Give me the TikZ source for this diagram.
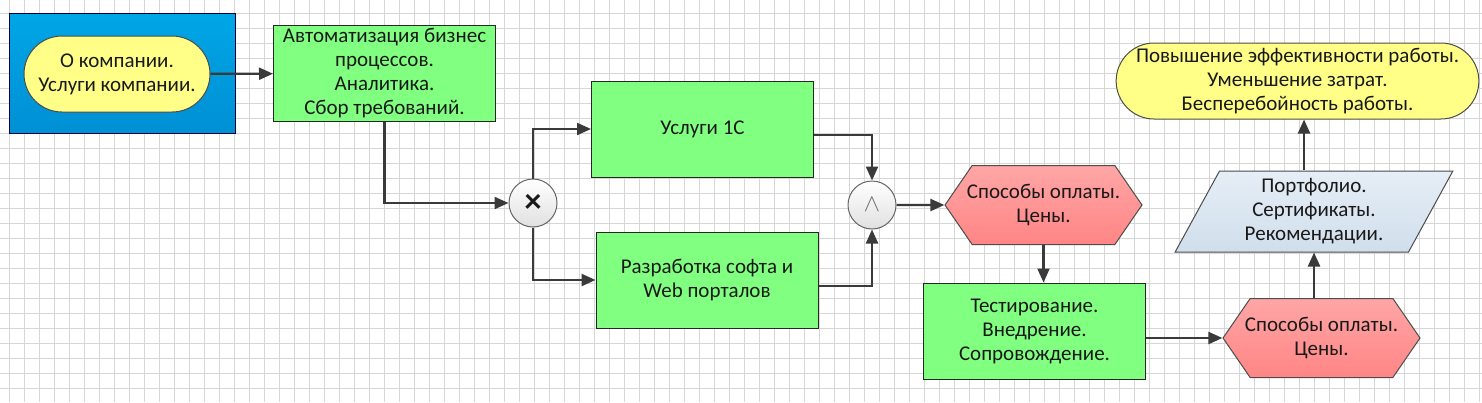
\documentclass[tikz,border=0pt]{standalone}
\usepackage{fontspec}
\setmainfont{Carlito}
\usetikzlibrary{shapes.misc,shapes.geometric,shapes.symbols,arrows.meta}

\definecolor{gridgray}{HTML}{D6D6D6}
\definecolor{linegray}{HTML}{3A3A3A}
\definecolor{procgreen}{HTML}{80FF80}
\definecolor{evyellow}{HTML}{FFFF88}
\definecolor{poolblue}{HTML}{00A6E6}
\definecolor{poolbluedark}{HTML}{0090D4}
\definecolor{payred}{HTML}{FF8585}
\definecolor{payredlight}{HTML}{FFA6A6}
\definecolor{docblue}{HTML}{D0DEEC}
\definecolor{docbluelight}{HTML}{E6EEF6}

\tikzstyle{gridline}=[gridgray, line width=0.8pt]
\tikzstyle{pool}=[draw=black!75!blue, line width=1pt, top color=poolblue, bottom color=poolbluedark, minimum width=226pt, minimum height=120pt]
\tikzstyle{event}=[rounded rectangle, draw=black!70, line width=1pt, fill=evyellow, minimum height=76pt, align=center, inner sep=1pt]
\tikzstyle{process}=[draw=black!85, line width=1pt, fill=procgreen, minimum width=222pt, minimum height=96pt, align=center, inner sep=1pt]
\tikzstyle{payment}=[signal, signal to=east and west, signal pointer angle=111, draw=black!70, line width=1pt, top color=payredlight, bottom color=payred, minimum width=197pt, minimum height=79pt, align=center, inner ysep=1pt, inner xsep=-6pt]
\tikzstyle{document}=[trapezium, trapezium left angle=64, trapezium right angle=116, trapezium stretches=true, draw=black!70, line width=1pt, top color=docbluelight, bottom color=docblue, minimum width=278pt, minimum height=81pt, align=center, inner sep=1pt]
\tikzstyle{gate}=[circle, draw=black!60, line width=1pt, top color=white, bottom color=black!12, minimum size=48pt, inner sep=0pt]
\tikzstyle{arrowdecorate}=[->, >={Triangle[length=14pt,width=12pt]}, line width=2.2pt, draw=linegray]

\begin{document}
\begin{tikzpicture}[x=1pt, y=-1pt, font=\fontsize{21}{24}\selectfont, text=black!90]
    \useasboundingbox (0,0) rectangle (1482,402);
    \fill[white] (0,0) rectangle (1482,402);
    % background grid
    \foreach \gx in {0,...,98}
      \draw[gridline] (9.5+15*\gx,0) -- (9.5+15*\gx,402);
    \foreach \gy in {-1,...,26}
      \draw[gridline] (0,13.3+15*\gy) -- (1482,13.3+15*\gy);

    \node[pool] (pool) at (122.5,73) {};
    \node[event, minimum width=188pt] (start) at (117,74) {О компании.\\Услуги компании.};

    \foreach \nodename/\x/\y/\txt in {
      auto/384.5/73.5/{Автоматизация бизнес\\процессов.\\Аналитика.\\Сбор требований.},
      usl/702.5/129/{Услуги 1С},
      razr/707/280/{Разработка софта и\\Web порталов},
      test/1034.5/331/{Тестирование.\\Внедрение.\\Сопровождение.}}
    {
      \node[process] (\nodename) at (\x,\y) {\txt};
    }

    \node[gate] (xor) at (533,203) {\fontsize{34}{34}\selectfont\bfseries ×};
    \node[gate] (and) at (872,205) {\fontsize{34}{34}\selectfont\color{black!55}$\wedge$};

    \node[payment] (pay1) at (1043.5,205) {Способы оплаты.\\Цены.};
    \node[payment] (pay2) at (1321.5,338) {Способы оплаты.\\Цены.};
    \node[document] (port) at (1314,211.5) {Портфолио.\\Сертификаты.\\Рекомендации.};
    \node[event, minimum width=361pt] (goal) at (1297.5,81) {Повышение эффективности работы.\\Уменьшение затрат.\\Бесперебойность работы.};

    %edges or lines
    \foreach \startnode/\endnode in {start/auto, and/pay1}
      \draw[arrowdecorate] (\startnode) -- (\endnode);
    \draw[arrowdecorate] (auto.south) |- (xor.west);
    \draw[arrowdecorate] (xor.north) |- (usl.west);
    \draw[arrowdecorate] (xor.south) |- (razr.west);
    \draw[arrowdecorate] ([yshift=-6pt]usl.east) -| (and.north);
    \draw[arrowdecorate] ([yshift=-6pt]razr.east) -| (and.south);
    \draw[arrowdecorate] (pay1.south) -- (pay1.south |- test.north);
    \draw[arrowdecorate] (test.east |- pay2.west) -- (pay2.west);
    \draw[arrowdecorate] (port.south |- pay2.north) -- (port.south);
    \draw[arrowdecorate] ([xshift=-10pt]port.north) -- ([xshift=-10pt]port.north |- goal.south);
\end{tikzpicture}
\end{document}
